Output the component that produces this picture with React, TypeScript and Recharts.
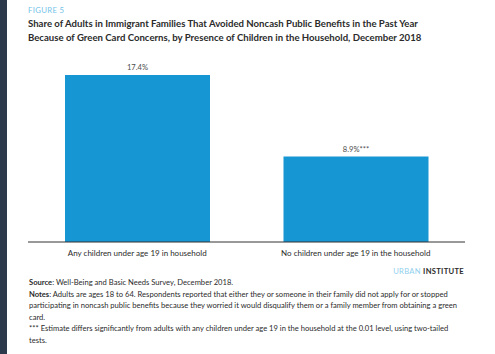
import { Bar, BarChart, LabelList, XAxis, YAxis } from "recharts";

const categories = [
  "Any children under age 19 in household",
  "No children under age 19 in the household",
];
const shares = [17.4, 8.9];
const marks = ["", "***"];

const blue = "#1696d2";
const ink = "#2b2b2b";
const grey = "#4d4d4d";

const data = categories.map((name, i) => ({
  name,
  v: shares[i],
  label: shares[i].toFixed(1) + "%" + marks[i],
}));

const notes = [
  "Adults are ages 18 to 64. Respondents reported that either they or someone in their family did not apply for or stopped",
  "participating in noncash public benefits because they worried it would disqualify them or a family member from obtaining a green",
  "card.",
];
const starNote = [
  "*** Estimate differs significantly from adults with any children under age 19 in the household at the 0.01 level, using two-tailed",
  "tests.",
];

// footer lines are placed by their vertical centre
const line = (mid: number): React.CSSProperties => ({
  position: "absolute",
  left: 29,
  top: mid - 5,
  whiteSpace: "nowrap",
  fontSize: 7.6,
  color: ink,
  lineHeight: "10px",
});

export default function App() {
  return (
    <div
      style={{
        position: "absolute",
        left: 0,
        top: 0,
        width: 495,
        height: 354,
        background: "#2c3a4b",
        fontFamily: "Lato, 'Open Sans', sans-serif",
        overflow: "hidden",
      }}
    >
      <div style={{ position: "absolute", left: 7, top: 0, width: 488, height: 354, background: "#fff" }} />

      <div style={{ position: "absolute", left: 28, top: 5, fontSize: 7.8, lineHeight: "10px", color: "#73c3e8", letterSpacing: 0.3 }}>
        FIGURE 5
      </div>
      <div style={{ position: "absolute", left: 28, top: 17, fontSize: 9.6, fontWeight: 700, color: ink, lineHeight: "14px", whiteSpace: "nowrap" }}>
        Share of Adults in Immigrant Families That Avoided Noncash Public Benefits in the Past Year
        <br />
        Because of Green Card Concerns, by Presence of Children in the Household, December 2018
      </div>

      <div style={{ position: "absolute", left: 28, top: 50 }}>
        <BarChart width={437} height={214} data={data} margin={{ top: 0, right: 0, bottom: 0, left: 0 }}>
          <YAxis hide domain={[0, 20]} />
          <XAxis
            dataKey="name"
            axisLine={{ stroke: "#333", strokeWidth: 1 }}
            tickLine={false}
            interval={0}
            height={22}
            tick={{ fill: ink, fontSize: 8, fontFamily: "Lato, sans-serif" }}
            tickMargin={2}
          />
          <Bar dataKey="v" fill={blue} barSize={145} isAnimationActive={false}>
            <LabelList
              dataKey="label"
              position="top"
              offset={5}
              fill={grey}
              fontSize={7.6}
              fontFamily="Lato, sans-serif"
            />
          </Bar>
        </BarChart>
      </div>

      <div style={{ position: "absolute", right: 31, top: 266, fontSize: 7.6, lineHeight: "11px", letterSpacing: 0.3, whiteSpace: "nowrap" }}>
        <span style={{ color: "#8fd0ee" }}>URBAN </span>
        <span style={{ color: ink, fontWeight: 700 }}>INSTITUTE</span>
      </div>

      <div style={line(282)}>
        <b>Source</b>: Well-Being and Basic Needs Survey, December 2018.
      </div>
      <div style={line(293.5)}>
        <b>Notes</b>: {notes[0]}
      </div>
      <div style={line(305)}>{notes[1]}</div>
      <div style={line(316.5)}>{notes[2]}</div>
      <div style={line(328)}>{starNote[0]}</div>
      <div style={line(339.5)}>{starNote[1]}</div>
    </div>
  );
}
